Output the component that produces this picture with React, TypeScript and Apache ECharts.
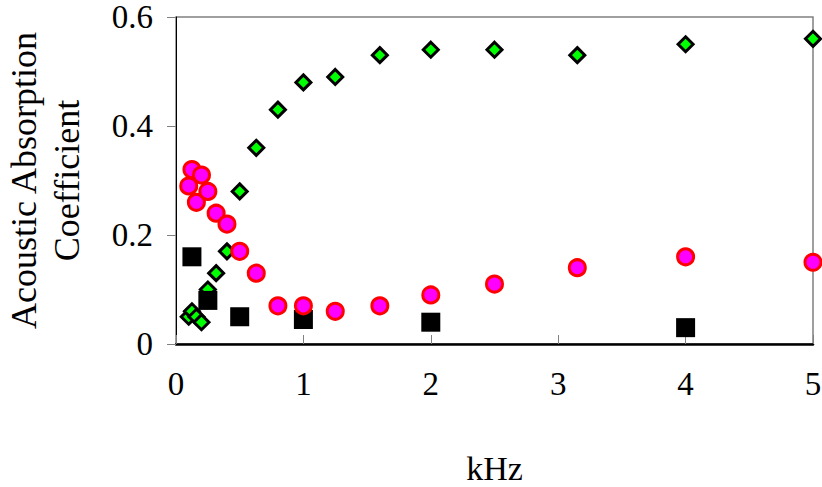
import React, { useEffect, useRef } from "react";
import * as echarts from "echarts";

const xTickLabels = ["0", "1", "2", "3", "4", "5"];
const yTickLabels = ["0", "0.2", "0.4", "0.6"];

const greenFreq = [0.1, 0.125, 0.16, 0.2, 0.25, 0.315, 0.4, 0.5, 0.63, 0.8, 1, 1.25, 1.6, 2, 2.5, 3.15, 4, 5];
const greenVals = [0.05, 0.06, 0.05, 0.04, 0.1, 0.13, 0.17, 0.28, 0.36, 0.43, 0.48, 0.49, 0.53, 0.54, 0.54, 0.53, 0.55, 0.56];

const pinkFreq = [0.1, 0.125, 0.16, 0.2, 0.25, 0.315, 0.4, 0.5, 0.63, 0.8, 1, 1.25, 1.6, 2, 2.5, 3.15, 4, 5];
const pinkVals = [0.29, 0.32, 0.26, 0.31, 0.28, 0.24, 0.22, 0.17, 0.13, 0.07, 0.07, 0.06, 0.07, 0.09, 0.11, 0.14, 0.16, 0.15];

const blackFreq = [0.125, 0.25, 0.5, 1, 2, 4];
const blackVals = [0.16, 0.08, 0.05, 0.045, 0.04, 0.03];

const FONT = "'Liberation Serif', 'Times New Roman', serif";

export default function App() {
  const ref = useRef<HTMLDivElement>(null);
  useEffect(() => {
    if (!ref.current) return;
    const chart = echarts.init(ref.current, undefined, { renderer: "svg" });
    const zip = (xs: number[], ys: number[]) => xs.map((x, i) => [x, ys[i]]);
    chart.setOption({
      animation: false,
      backgroundColor: "#ffffff",
      textStyle: { fontFamily: FONT },
      grid: {
        left: 176,
        top: 17,
        right: 9,
        bottom: 143,
        outerBoundsMode: "none",
        containLabel: false,
        show: true,
        borderColor: "#808080",
        borderWidth: 1.5,
        backgroundColor: "transparent",
      },
      xAxis: {
        type: "value",
        min: 0,
        max: 5,
        interval: 1,
        name: "kHz",
        nameLocation: "middle",
        nameGap: 107,
        nameTextStyle: { fontFamily: FONT, fontSize: 34, color: "#000" },
        axisLine: { show: true, onZero: false, lineStyle: { color: "#000", width: 2.5 } },
        axisTick: { show: true, inside: true, length: 9, lineStyle: { color: "#808080", width: 1 } },
        splitLine: { show: false },
        axisLabel: {
          fontFamily: FONT,
          fontSize: 33,
          color: "#000",
          margin: 23,
          formatter: (v: number) => xTickLabels[Math.round(v)] ?? String(v),
        },
      },
      yAxis: {
        type: "value",
        min: 0,
        max: 0.6,
        interval: 0.2,
        name: "Acoustic Absorption\nCoefficient",
        nameLocation: "middle",
        nameRotate: 90,
        nameGap: 88,
        nameTextStyle: { fontFamily: FONT, fontSize: 36, color: "#000", lineHeight: 43 },
        axisLine: { show: true, lineStyle: { color: "#000", width: 1 } },
        axisTick: { show: true, inside: false, length: 9, lineStyle: { color: "#808080", width: 1 } },
        splitLine: { show: false },
        axisLabel: {
          fontFamily: FONT,
          fontSize: 33,
          color: "#000",
          margin: 23,
          formatter: (v: number) => yTickLabels[Math.round(v / 0.2)] ?? String(v),
        },
      },
      series: [
        {
          type: "scatter",
          data: zip(greenFreq, greenVals),
          symbol: "diamond",
          symbolSize: 15,
          clip: false,
          itemStyle: { color: "#00ff00", borderColor: "#000", borderWidth: 3, opacity: 1 },
          z: 2,
        },
        {
          type: "scatter",
          data: zip(blackFreq, blackVals),
          symbol: "rect",
          symbolSize: 19,
          clip: false,
          itemStyle: { color: "#000", borderWidth: 0, opacity: 1 },
          z: 3,
        },
        {
          type: "scatter",
          data: zip(pinkFreq, pinkVals),
          symbol: "circle",
          symbolSize: 16,
          clip: false,
          itemStyle: { color: "#ff00ff", borderColor: "#ff0000", borderWidth: 3, opacity: 1 },
          z: 4,
        },
      ],
    });
    return () => chart.dispose();
  }, []);
  return <div ref={ref} style={{ width: 822, height: 487, position: "absolute", left: 0, top: 0 }} />;
}
